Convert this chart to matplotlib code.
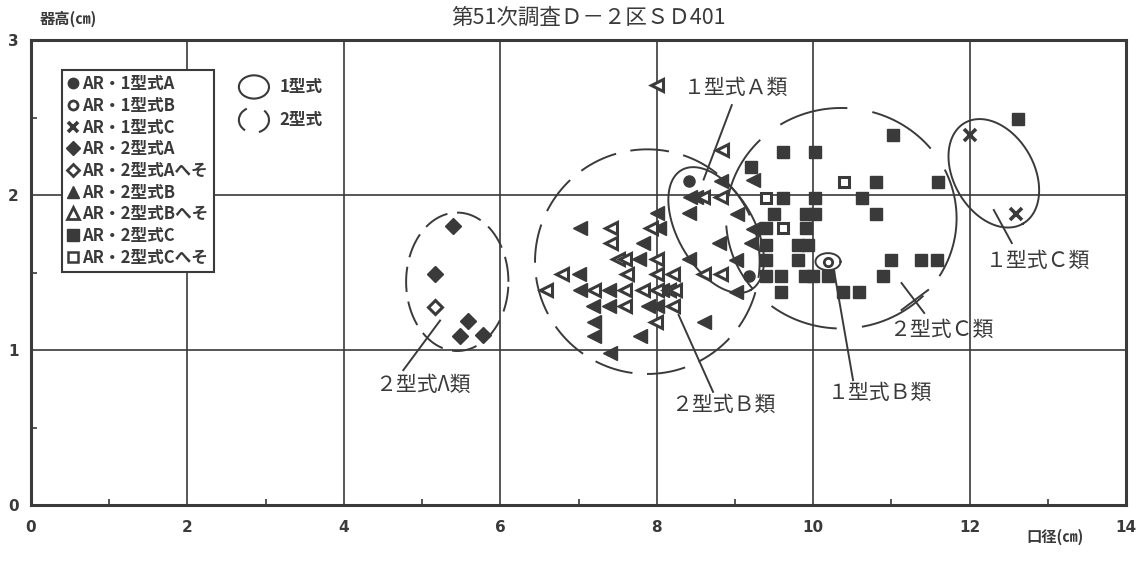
import numpy as np
import matplotlib.pyplot as plt
from matplotlib.lines import Line2D
from matplotlib.patches import Ellipse, Arc

plt.rcParams['font.family'] = ['Noto Sans CJK JP', 'DejaVu Sans']

INK = '#3a3a3a'

# values: 口径 (x) / 器高 (y)
ar1a_x = [8.41, 9.18]
ar1a_y = [2.09, 1.48]

ar1b_x = [10.19]
ar1b_y = [1.57]

ar1c_x = [12.0, 12.60]
ar1c_y = [2.39, 1.88]

ar2a_x = [5.39, 5.17, 5.59, 5.48, 5.78]
ar2a_y = [1.80, 1.49, 1.19, 1.09, 1.10]

ar2a_h_x = [5.17]
ar2a_h_y = [1.28]

ar2b_x = [8.00, 8.41, 7.02, 8.03, 7.82, 8.80, 7.77, 8.41, 7.00, 7.02, 7.39,
          8.07, 7.18, 7.39, 7.89, 8.00, 7.20, 8.61, 7.20, 7.79, 7.40,
          8.82, 9.23, 8.43, 8.50, 9.03, 9.23, 9.21, 9.01, 9.01]
ar2b_y = [1.886, 1.886, 1.79, 1.79, 1.69, 1.69, 1.585, 1.585, 1.49, 1.39, 1.39,
          1.39, 1.286, 1.286, 1.286, 1.286, 1.18, 1.18, 1.09, 1.09, 0.98,
          2.09, 2.10, 1.99, 1.99, 1.88, 1.78, 1.69, 1.58, 1.376]

ar2b_h_x = [8.01, 8.84, 8.59, 8.82, 7.93, 7.41, 7.41, 7.50, 7.60, 8.00, 6.79,
            7.62, 8.01, 8.21, 8.61, 8.82, 6.58, 7.20, 7.60, 7.82, 8.00, 8.16,
            8.23, 7.60, 8.21, 7.99]
ar2b_h_y = [2.71, 2.29, 1.99, 1.99, 1.79, 1.79, 1.69, 1.585, 1.585, 1.585, 1.49,
            1.49, 1.49, 1.49, 1.49, 1.49, 1.39, 1.39, 1.39, 1.39, 1.39, 1.39,
            1.39, 1.286, 1.286, 1.18]

ar2c_x = [11.02, 12.62, 9.21, 9.61, 10.02, 10.81, 11.60, 9.61, 10.02, 10.62,
          9.50, 9.91, 10.02, 10.81, 9.40, 9.91, 9.40, 9.80, 9.93, 9.40, 9.80,
          11.00, 11.38, 11.58, 9.40, 9.59, 9.89, 10.00, 10.19, 10.89, 9.59,
          10.38, 10.59]
ar2c_y = [2.39, 2.49, 2.18, 2.28, 2.28, 2.086, 2.086, 1.98, 1.98, 1.98,
          1.88, 1.88, 1.88, 1.88, 1.785, 1.785, 1.68, 1.68, 1.68, 1.58, 1.58,
          1.58, 1.58, 1.58, 1.48, 1.48, 1.48, 1.48, 1.48, 1.48, 1.376,
          1.376, 1.376]

ar2c_h_x = [10.40, 9.40, 9.61]
ar2c_h_y = [2.086, 1.98, 1.785]

legend_labels = ['AR・1型式A', 'AR・1型式B', 'AR・1型式C', 'AR・2型式A',
                 'AR・2型式Aへそ', 'AR・2型式B', 'AR・2型式Bへそ',
                 'AR・2型式C', 'AR・2型式Cへそ']

fig = plt.figure(figsize=(11.37, 5.62), dpi=100)
ax = fig.add_axes([31 / 1137, 57 / 562, 1095 / 1137, 465 / 562])
ax.set_xlim(0, 14)
ax.set_ylim(0, 3)

# y-units drawn per x-unit on screen, so tilted rings keep their shape
ratio = (1095 / 14) / (465 / 3)


def ring(cx, cy, a, b, ang, n=300):
    t = np.linspace(0, 2 * np.pi, n)
    th = np.deg2rad(ang)
    u = a * np.cos(t) * np.cos(th) - b * np.sin(t) * np.sin(th)
    v = a * np.cos(t) * np.sin(th) + b * np.sin(t) * np.cos(th)
    return cx + u, cy + v * ratio


ax.set_xticks(range(0, 15, 2))
ax.set_yticks([0, 1, 2, 3])
ax.set_xticks(np.arange(1, 14, 2), minor=True)
ax.set_yticks([0.5, 1.5, 2.5], minor=True)
ax.tick_params(which='major', length=0, labelsize=11, colors=INK)
ax.tick_params(axis='x', which='major', pad=11)
ax.tick_params(axis='y', which='major', pad=9)
ax.tick_params(which='minor', direction='in', length=4, width=1.2, color=INK)
for lab in ax.get_xticklabels() + ax.get_yticklabels():
    lab.set_fontweight('bold')
    lab.set_family('DejaVu Sans')
ax.grid(True, which='major', color=INK, lw=1.2)
ax.set_axisbelow(True)
for side in ax.spines:
    ax.spines[side].set_color(INK)
    ax.spines[side].set_linewidth(2.2)

# group rings
ax.plot(*ring(12.31, 2.14, 0.744, 0.513, -60), color=INK, lw=1.4)
ax.plot(*ring(8.76, 1.774, 0.885, 0.487, -60), color=INK, lw=1.4)
ax.plot(*ring(10.19, 1.57, 0.16, 0.109, 0), color=INK, lw=1.4)
ax.plot(*ring(5.45, 1.44, 0.654, 0.885, 0), color=INK, lw=1.4,
        ls=(0, (13, 5)))
ax.plot(*ring(7.88, 1.57, 1.436, 1.436, 0), color=INK, lw=1.4,
        ls=(3, (20, 7.5)))
ax.plot(*ring(10.36, 1.85, 1.474, 1.41, 0), color=INK, lw=1.4,
        ls=(10, (36, 13)))

mk = dict(ls='none', color=INK, zorder=5)
ax.plot(ar1a_x, ar1a_y, marker='o', ms=8, **mk)
ax.plot(ar1b_x, ar1b_y, marker='o', ms=6, mfc='white', mew=2, **mk)
ax.plot(ar1c_x, ar1c_y, marker='x', ms=8, mew=2.6, **mk)
ax.plot(ar2a_x, ar2a_y, marker='D', ms=8, **mk)
ax.plot(ar2a_h_x, ar2a_h_y, marker='D', ms=7, mfc='white', mew=2.2, **mk)
ax.plot(ar2b_x, ar2b_y, marker='<', ms=9.5, **mk)
ax.plot(ar2b_h_x, ar2b_h_y, marker='<', ms=8.5, mfc='white', mew=2.2, **mk)
ax.plot(ar2c_x, ar2c_y, marker='s', ms=8, **mk)
ax.plot(ar2c_h_x, ar2c_h_y, marker='s', ms=7, mfc='white', mew=2.2, **mk)

# group labels with leader lines
lab_kw = dict(fontsize=15, color=INK, ha='center', va='center')
ax.text(9.01, 2.69, '１型式Ａ類', **lab_kw)
ax.plot([8.96, 8.60], [2.58, 2.10], color=INK, lw=1.4)
ax.text(5.01, 0.774, '２型式Λ類', **lab_kw)
ax.plot([4.76, 5.23], [0.87, 1.19], color=INK, lw=1.4)
ax.text(8.85, 0.645, '２型式Ｂ類', **lab_kw)
ax.plot([8.28, 8.72], [1.226, 0.73], color=INK, lw=1.4)
ax.text(10.85, 0.72, '１型式Ｂ類', **lab_kw)
ax.plot([10.27, 10.51], [1.503, 0.806], color=INK, lw=1.4)
ax.text(11.64, 1.13, '２型式Ｃ類', **lab_kw)
ax.plot([11.13, 11.42], [1.432, 1.239], color=INK, lw=1.4)
ax.plot([11.13, 11.47], [1.258, 1.387], color=INK, lw=1.4)
ax.text(12.88, 1.574, '１型式Ｃ類', **lab_kw)
ax.plot([12.31, 12.54], [1.903, 1.69], color=INK, lw=1.4)

# marker legend
hk = dict(ls='none', color=INK)
handles = [
    Line2D([], [], marker='o', ms=7.5, **hk),
    Line2D([], [], marker='o', ms=6.5, mfc='white', mew=2, **hk),
    Line2D([], [], marker='x', ms=7.5, mew=2.6, **hk),
    Line2D([], [], marker='D', ms=7, **hk),
    Line2D([], [], marker='D', ms=6.5, mfc='white', mew=2, **hk),
    Line2D([], [], marker='^', ms=8.5, **hk),
    Line2D([], [], marker='^', ms=8, mfc='white', mew=2, **hk),
    Line2D([], [], marker='s', ms=8, **hk),
    Line2D([], [], marker='s', ms=7.5, mfc='white', mew=1.8, **hk),
]
leg = ax.legend(handles, legend_labels, loc='upper left',
                bbox_to_anchor=(0.028, 0.935), borderaxespad=0,
                fancybox=False, framealpha=1, edgecolor=INK,
                prop={'size': 12, 'weight': 'bold'},
                handlelength=0.75, handletextpad=0.2, labelspacing=0.22,
                borderpad=0.3)
leg.get_frame().set_linewidth(1.5)
leg.set_zorder(10)
for t in leg.get_texts():
    t.set_color(INK)

# ring legend
ax.add_patch(Ellipse((0.2036, 0.899), 0.0275, 0.05, transform=ax.transAxes,
                     fill=False, ec=INK, lw=1.5))
ax.add_patch(Arc((0.2036, 0.828), 0.0275, 0.055, theta1=105, theta2=250,
                 transform=ax.transAxes, ec=INK, lw=1.5))
ax.add_patch(Arc((0.2036, 0.828), 0.0275, 0.055, theta1=-80, theta2=65,
                 transform=ax.transAxes, ec=INK, lw=1.5))
ax.text(0.227, 0.899, '1型式', transform=ax.transAxes, fontsize=12,
        fontweight='bold', color=INK, va='center')
ax.text(0.227, 0.828, '2型式', transform=ax.transAxes, fontsize=12,
        fontweight='bold', color=INK, va='center')

fig.text(588 / 1137, 1 - 18 / 562, '第51次調査Ｄ－２区ＳＤ401', fontsize=15.5,
         color=INK, ha='center', va='center')
fig.text(68 / 1137, 1 - 19 / 562, '器高(㎝)', fontsize=11, fontweight='bold',
         color=INK, ha='center', va='center')
fig.text(1055 / 1137, 1 - 537 / 562, '口径(㎝)', fontsize=11, fontweight='bold',
         color=INK, ha='center', va='center')

fig.savefig('out.png', dpi=100)
